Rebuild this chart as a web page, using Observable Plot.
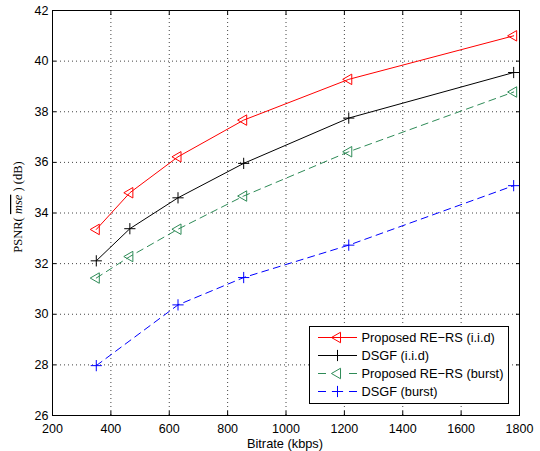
<!DOCTYPE html>
<html><head><meta charset="utf-8">
<script src="https://cdn.jsdelivr.net/npm/d3@7"></script>
<script src="https://cdn.jsdelivr.net/npm/@observablehq/plot@0.6"></script>
<style>body{margin:0;background:#fff}</style>
</head><body><div id="chart"></div>
<script>
const bitrate = [350, 465, 630, 855, 1215, 1780];
const bitrateBurstDsgf = [350, 630, 855, 1215, 1780];
const proposedIid = [33.35, 34.8, 36.22, 37.67, 39.28, 41.0];
const dsgfIid = [32.11, 33.38, 34.6, 35.96, 37.75, 39.55];
const proposedBurst = [31.43, 32.28, 33.36, 34.67, 36.42, 38.78];
const dsgfBurst = [27.97, 30.37, 31.45, 32.73, 35.08];
const seriesNames = ["Proposed RE\u2212RS (i.i.d)", "DSGF (i.i.d)", "Proposed RE\u2212RS (burst)", "DSGF (burst)"];
const seriesColors = ["#ff0000", "#000000", "#2e8b57", "#0000ff"];
const seriesSymbols = ["triangle2", "plus", "triangle2", "plus"];
const seriesDashed = [false, false, true, true];
const xTicks = [200, 400, 600, 800, 1000, 1200, 1400, 1600, 1800];
const yTicks = [26, 28, 30, 32, 34, 36, 38, 40, 42];

const seriesX = [bitrate, bitrate, bitrate, bitrateBurstDsgf];
const seriesY = [proposedIid, dsgfIid, proposedBurst, dsgfBurst];
const series = seriesNames.map((name, i) => ({
  name, color: seriesColors[i], symbol: seriesSymbols[i], dashed: seriesDashed[i],
  rows: seriesX[i].map((x, j) => ({x, y: seriesY[i][j]}))
}));

const dash = "7,5";
const triR = 5, plusR = 3.7;
const marks = [
  Plot.gridX(xTicks, {stroke: "#444", strokeOpacity: 1, strokeDasharray: "1,3"}),
  Plot.gridY(yTicks, {stroke: "#444", strokeOpacity: 1, strokeDasharray: "1,3"}),
];
for (const s of series) {
  marks.push(Plot.line(s.rows, {x: "x", y: "y", stroke: s.color, strokeWidth: 1, strokeDasharray: s.dashed ? dash : null}));
  const tri = s.symbol === "triangle2";
  marks.push(Plot.dot(s.rows, {x: "x", y: "y", symbol: s.symbol, stroke: s.color, fill: "none", strokeWidth: 1, r: tri ? triR : plusR, rotate: tri ? -90 : 0}));
}
const fmt = d3.format("d");
marks.push(
  Plot.axisX(xTicks, {anchor: "bottom", tickSize: -4, tickPadding: 13, label: null, fontSize: 12.5, tickFormat: fmt}),
  Plot.axisX(xTicks, {anchor: "top", tickSize: -4, tickFormat: () => "", label: null}),
  Plot.axisY(yTicks, {anchor: "left", tickSize: -4, tickPadding: 8, label: null, fontSize: 12.5, tickFormat: fmt}),
  Plot.axisY(yTicks, {anchor: "right", tickSize: -4, tickFormat: () => "", label: null}),
  Plot.frame({stroke: "#000", strokeWidth: 1})
);

const chart = Plot.plot({
  width: 540, height: 451,
  marginLeft: 52, marginRight: 21, marginTop: 10, marginBottom: 36,
  x: {domain: [200, 1800]},
  y: {domain: [26, 42]},
  style: {fontFamily: "Liberation Sans, Arial, sans-serif", fontSize: "12px", background: "#fff", color: "#000"},
  marks
});

const svg = d3.select(chart);
// x label
svg.append("text").attr("x", 285).attr("y", 448).attr("text-anchor", "middle")
  .attr("font-family", "Liberation Sans, Arial, sans-serif").attr("font-size", 12.8).attr("fill", "#000")
  .text("Bitrate (kbps)");
// y label
const yl = svg.append("text").attr("transform", "translate(22,207) rotate(-90)").attr("text-anchor", "middle")
  .attr("font-family", "Liberation Serif, Times New Roman, serif").attr("font-size", 12.5).attr("fill", "#000");
yl.append("tspan").text("PSNR( ");
yl.append("tspan").attr("font-style", "italic").attr("text-decoration", "overline").text("mse");
yl.append("tspan").text(" ) (dB)");

// legend
const lg = svg.append("g");
lg.append("rect").attr("x", 309.5).attr("y", 326.5).attr("width", 199).attr("height", 77)
  .attr("fill", "#fff").attr("stroke", "#000").attr("stroke-width", 1);
series.forEach((s, i) => {
  const y = 337.5 + i * 18;
  if (s.dashed) {
    lg.append("line").attr("x1", 318).attr("x2", 326).attr("y1", y).attr("y2", y).attr("stroke", s.color);
    lg.append("line").attr("x1", 349).attr("x2", 357).attr("y1", y).attr("y2", y).attr("stroke", s.color);
  } else {
    lg.append("line").attr("x1", 318).attr("x2", 357).attr("y1", y).attr("y2", y).attr("stroke", s.color);
  }
  const tri = s.symbol === "triangle2";
  const r = tri ? triR : plusR;
  const sym = d3.symbol(tri ? d3.symbolTriangle2 : d3.symbolPlus, r * r * Math.PI);
  lg.append("path").attr("d", sym()).attr("fill", "none").attr("stroke", s.color)
    .attr("transform", `translate(337.5,${y})` + (tri ? " rotate(-90)" : ""));
  lg.append("text").attr("x", 361.5).attr("y", y).attr("dy", "0.35em").attr("text-anchor", "start")
    .attr("font-family", "Liberation Sans, Arial, sans-serif").attr("font-size", 12.8).attr("fill", "#000")
    .text(s.name);
});

document.getElementById("chart").append(chart);
</script>
</body></html>
